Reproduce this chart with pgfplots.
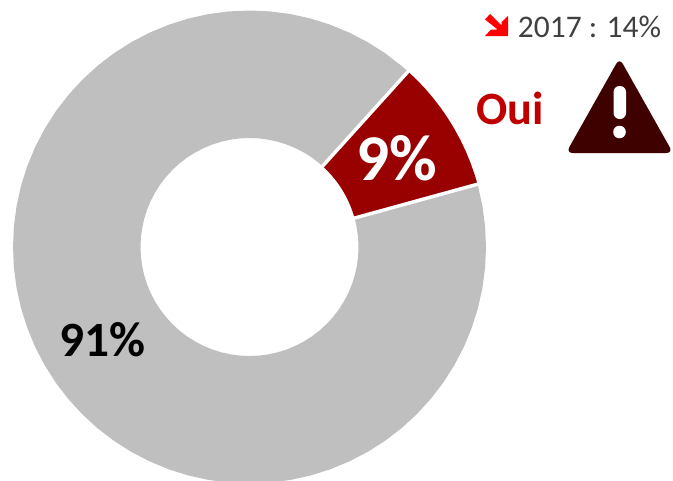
\documentclass[border=0pt]{standalone}
\usepackage{pgfplots}
\pgfplotsset{compat=1.18}
\usepgfplotslibrary{polar}
\usepackage{fontspec}
\setmainfont{Carlito}
\definecolor{ouired}{HTML}{990000}
\definecolor{ouitext}{HTML}{C00000}
\definecolor{ringgray}{HTML}{BFBFBF}
\definecolor{warn}{HTML}{3F0000}
\definecolor{note}{HTML}{404040}

\begin{document}
\begin{tikzpicture}
\useasboundingbox (0,0) rectangle (504.75pt,360pt);
\clip (0,0) rectangle (504.75pt,360pt);
\begin{polaraxis}[
    at={(187.125pt,174.75pt)},
    anchor=center,
    scale only axis,
    width=354.75pt,
    height=354.75pt,
    xmin=0, xmax=360,
    ymin=0, ymax=236.5,
    hide axis,
    clip=false,
]
% 91% share, outer edge then inner edge
\addplot[fill=ringgray,draw=none] coordinates {
(47.9,236.5)(50,236.5)(55,236.5)(60,236.5)(65,236.5)(70,236.5)(75,236.5)(80,236.5)(85,236.5)(90,236.5)
(95,236.5)(100,236.5)(105,236.5)(110,236.5)(115,236.5)(120,236.5)(125,236.5)(130,236.5)(135,236.5)(140,236.5)
(145,236.5)(150,236.5)(155,236.5)(160,236.5)(165,236.5)(170,236.5)(175,236.5)(180,236.5)(185,236.5)(190,236.5)
(195,236.5)(200,236.5)(205,236.5)(210,236.5)(215,236.5)(220,236.5)(225,236.5)(230,236.5)(235,236.5)(240,236.5)
(245,236.5)(250,236.5)(255,236.5)(260,236.5)(265,236.5)(270,236.5)(275,236.5)(280,236.5)(285,236.5)(290,236.5)
(295,236.5)(300,236.5)(305,236.5)(310,236.5)(315,236.5)(320,236.5)(325,236.5)(330,236.5)(335,236.5)(340,236.5)
(345,236.5)(350,236.5)(355,236.5)(360,236.5)(365,236.5)(370,236.5)(375,236.5)(375.4,236.5)
(375.4,109)(375,109)(370,109)(365,109)(360,109)(355,109)(350,109)(345,109)(340,109)(335,109)
(330,109)(325,109)(320,109)(315,109)(310,109)(305,109)(300,109)(295,109)(290,109)(285,109)
(280,109)(275,109)(270,109)(265,109)(260,109)(255,109)(250,109)(245,109)(240,109)(235,109)
(230,109)(225,109)(220,109)(215,109)(210,109)(205,109)(200,109)(195,109)(190,109)(185,109)
(180,109)(175,109)(170,109)(165,109)(160,109)(155,109)(150,109)(145,109)(140,109)(135,109)
(130,109)(125,109)(120,109)(115,109)(110,109)(105,109)(100,109)(95,109)(90,109)(85,109)
(80,109)(75,109)(70,109)(65,109)(60,109)(55,109)(50,109)(47.9,109)
} -- cycle;
% 9% share
\addplot[fill=ouired,draw=none] coordinates {
(15.4,236.5)(18,236.5)(21,236.5)(24,236.5)(27,236.5)(30,236.5)(33,236.5)(36,236.5)(39,236.5)(42,236.5)(45,236.5)(47.9,236.5)
(47.9,109)(45,109)(42,109)(39,109)(36,109)(33,109)(30,109)(27,109)(24,109)(21,109)(18,109)(15.4,109)
} -- cycle;
% white separators
\addplot[white,line width=2.6pt] coordinates {(47.9,105)(47.9,240)};
\addplot[white,line width=2.6pt] coordinates {(15.4,105)(15.4,240)};
\end{polaraxis}

\begin{scope}[x=0.75pt,y=-0.75pt,yshift=360pt]
\node[text=white,font=\fontsize{49pt}{49pt}\selectfont\bfseries,inner sep=0pt] at (396.5,158) {9\%};
\node[text=black,font=\fontsize{37pt}{37pt}\selectfont\bfseries,inner sep=0pt] at (102,340) {91\%};
\node[text=ouitext,font=\fontsize{34.7pt}{34.7pt}\selectfont\bfseries,inner sep=0pt] at (510,108) {Oui};
\node[text=note,font=\fontsize{23.6pt}{23.6pt}\selectfont,inner sep=0pt] at (589.5,27) {2017 : 14\%};

% red arrow
\fill[red] (490,14) -- (501.7,25.5) -- (501.7,22) -- (508,16) -- (508,36) -- (485,36) -- (491,29.5) -- (497.5,29.5) -- (485,19.5) -- cycle;

% warning sign
\fill[warn,rounded corners=5pt] (619.5,58) -- (673,153) -- (566,153) -- cycle;
\fill[white,rounded corners=4.5pt] (613.5,86) rectangle (626,119);
\fill[white] (619.5,132) circle (6.3);
\end{scope}
\end{tikzpicture}
\end{document}
